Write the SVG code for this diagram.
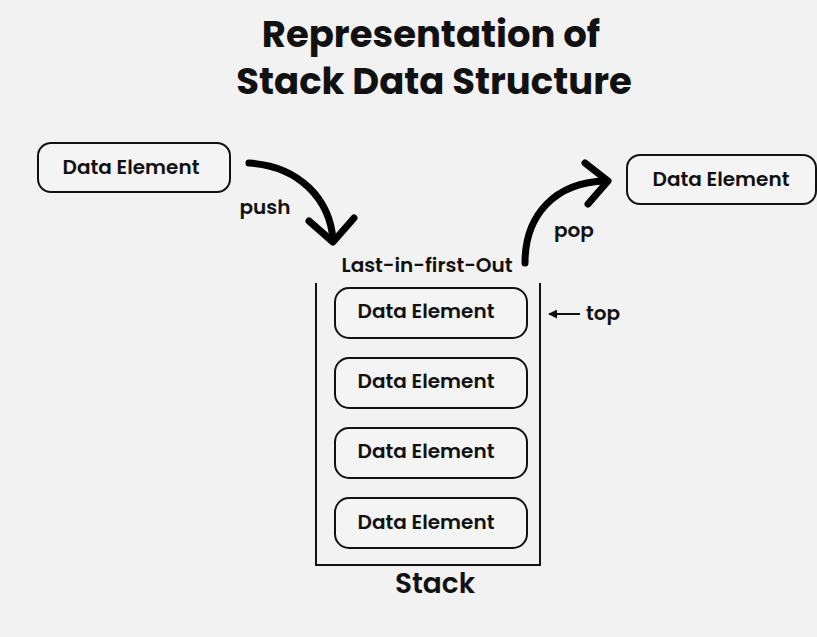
<svg xmlns="http://www.w3.org/2000/svg" width="817" height="637" viewBox="0 0 817 637">
<style>
.box{fill:#f4f4f4;stroke:#111;stroke-width:2}
.lbl{font-family:Poppins,"Open Sans","Liberation Sans",sans-serif;font-weight:600;font-size:20px;fill:#111;text-anchor:middle}
.title{font-family:Poppins,"Open Sans","Liberation Sans",sans-serif;font-weight:700;font-size:37px;fill:#111;text-anchor:middle}
.big{stroke:#000;stroke-width:7;fill:none;stroke-linecap:round;stroke-linejoin:round}
</style>
<defs>
<marker id="ah" viewBox="0 0 10 10" refX="9" refY="5" markerWidth="9" markerHeight="9" orient="auto" markerUnits="userSpaceOnUse"><path d="M0,0 L10,5 L0,10 z" fill="#111"/></marker>
</defs>
<rect width="817" height="637" fill="#f2f2f2"/>
<text class="title" x="431" y="47">Representation of</text>
<text class="title" x="434" y="94">Stack Data Structure</text>
<g id="input"><rect class="box" x="38" y="143" width="192" height="49" rx="13"/><text class="lbl" x="131" y="174">Data Element</text></g>
<g id="output"><rect class="box" x="627" y="155" width="189" height="49" rx="13"/><text class="lbl" x="721" y="186">Data Element</text></g>
<g id="stack"><path d="M316,283 V565 H540 V283" fill="none" stroke="#111" stroke-width="2"/><text class="lbl" x="427" y="272">Last-in-first-Out</text><text class="lbl" x="435" y="593" style="font-size:28px">Stack</text></g>
<g id="e1"><rect class="box" x="335" y="288" width="192" height="50" rx="14"/><text class="lbl" x="426" y="318">Data Element</text></g>
<g id="e2"><rect class="box" x="335" y="358" width="192" height="50" rx="14"/><text class="lbl" x="426" y="388">Data Element</text></g>
<g id="e3"><rect class="box" x="335" y="428" width="192" height="50" rx="14"/><text class="lbl" x="426" y="458">Data Element</text></g>
<g id="e4"><rect class="box" x="335" y="498" width="192" height="50" rx="14"/><text class="lbl" x="426" y="529">Data Element</text></g>
<g id="connectors">
<path class="big" d="M249,163 C300,166 330,200 333,240"/>
<path class="big" d="M309,221 L333,242 L354,218"/>
<path class="big" d="M525,263 C525,215 555,182 606,181"/>
<path class="big" d="M585,163 L608,181 L588,204"/>
<line x1="580" y1="314" x2="549" y2="314" stroke="#111" stroke-width="2" marker-end="url(#ah)"/>
<text class="lbl" x="265" y="214">push</text>
<text class="lbl" x="574" y="237">pop</text>
<text class="lbl" x="603" y="320">top</text>
</g>
</svg>
